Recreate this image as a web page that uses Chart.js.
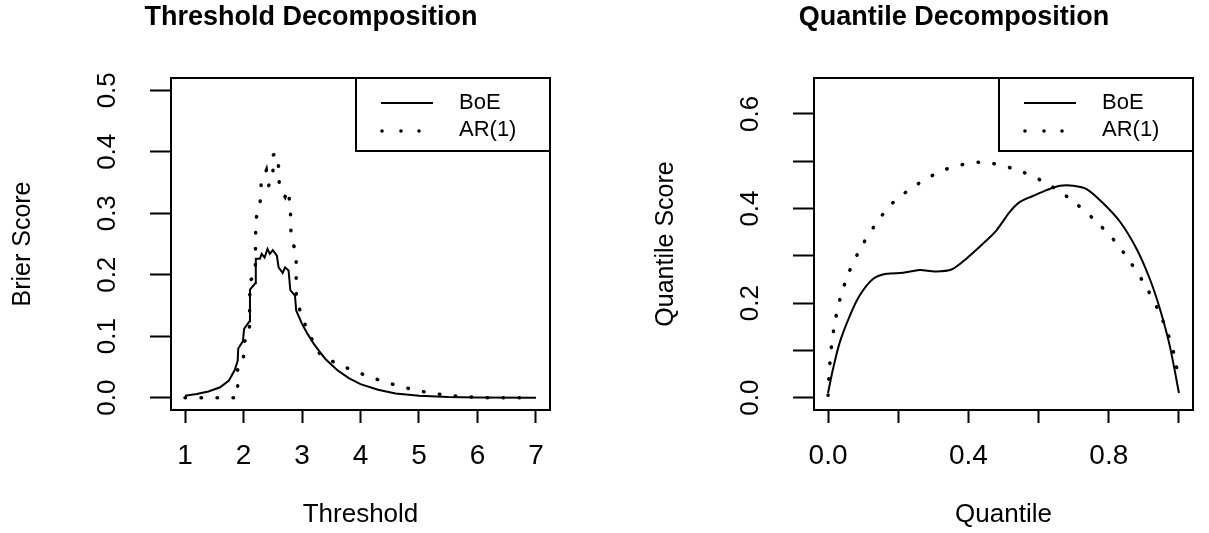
<!DOCTYPE html>
<html>
<head>
<meta charset="utf-8">
<title>Threshold and Quantile Decomposition</title>
<script src="https://cdn.jsdelivr.net/npm/chart.js@4.4.0/dist/chart.umd.min.js"></script>
<style>
    html, body { margin: 0; padding: 0; background: #fff; }
    #wrap { position: relative; width: 1209px; height: 533px; }
    #thresholdChart { position: absolute; left: 0; top: 0; }
    #quantileChart { position: absolute; left: 605px; top: 0; }
</style>
</head>
<body>
<div id="wrap">
    <canvas id="thresholdChart" width="605" height="533"></canvas>
    <canvas id="quantileChart" width="604" height="533"></canvas>
</div>
<script>
// Values
const seriesNames = ['BoE', 'AR(1)'];

// Threshold decomposition (Brier score)
const thrBoeX = [1.00, 1.20, 1.40, 1.60, 1.75, 1.85, 1.90, 1.91, 1.99, 2.01, 2.10, 2.11, 2.20, 2.21, 2.28, 2.31, 2.36, 2.41, 2.45, 2.50,
                 2.57, 2.60, 2.67, 2.71, 2.77, 2.80, 2.88, 2.90, 3.00, 3.10, 3.20, 3.30, 3.40, 3.60, 3.80, 4.00, 4.30, 4.60, 5.00, 5.50, 6.00, 7.00];
const thrBoeY = [0.003, 0.006, 0.010, 0.017, 0.028, 0.045, 0.060, 0.080, 0.092, 0.112, 0.124, 0.176, 0.186, 0.226, 0.226, 0.234, 0.228, 0.242, 0.234, 0.240,
                 0.231, 0.212, 0.203, 0.212, 0.207, 0.175, 0.166, 0.142, 0.120, 0.103, 0.088, 0.075, 0.063, 0.045, 0.032, 0.022, 0.013, 0.007, 0.003, 0.001, 0.0003, 0.0];
const thrArX = [1.0, 1.9, 1.9, 2.0, 2.0, 2.1, 2.11, 2.2, 2.21, 2.27, 2.3, 2.3, 2.39, 2.43, 2.5, 2.51, 2.57, 2.6, 2.61, 2.67,
                2.71, 2.75, 2.8, 2.81, 2.85, 2.9, 2.9, 2.94, 3.0, 3.1, 3.2, 3.3, 3.5, 3.8, 4.1, 4.4, 4.7, 5.0, 5.3, 5.6, 5.9, 6.2, 6.75];
const thrArY = [0, 0, 0.05, 0.06, 0.09, 0.10, 0.19, 0.20, 0.29, 0.31, 0.33, 0.35, 0.37, 0.345, 0.355, 0.395, 0.397, 0.375, 0.35, 0.333,
                0.327, 0.338, 0.315, 0.27, 0.25, 0.235, 0.17, 0.15, 0.13, 0.109, 0.089, 0.072, 0.06, 0.047, 0.036, 0.026, 0.018, 0.011, 0.006, 0.003, 0.001, 0, 0];
const thrXTicks = [1, 2, 3, 4, 5, 6, 7];
const thrXLabels = ['1', '2', '3', '4', '5', '6', '7'];
const thrYTicks = [0, 0.1, 0.2, 0.3, 0.4, 0.5];
const thrYLabels = ['0.0', '0.1', '0.2', '0.3', '0.4', '0.5'];

// Quantile decomposition (quantile score)
const qBoeX = [0.000, 0.014, 0.033, 0.062, 0.090, 0.128, 0.166, 0.214, 0.261, 0.304, 0.352, 0.394, 0.442, 0.480,
               0.518, 0.547, 0.585, 0.623, 0.661, 0.699, 0.737, 0.784, 0.832, 0.879, 0.917, 0.946, 0.974, 1.000];
const qBoeY = [0.010, 0.060, 0.116, 0.173, 0.216, 0.251, 0.262, 0.264, 0.270, 0.267, 0.271, 0.294, 0.326, 0.354,
               0.393, 0.414, 0.427, 0.439, 0.448, 0.448, 0.441, 0.411, 0.372, 0.315, 0.251, 0.187, 0.109, 0.010];
const qArX = [0.000, 0.003, 0.009, 0.019, 0.035, 0.059, 0.092, 0.133, 0.183, 0.254, 0.336, 0.433, 0.529,
              0.616, 0.692, 0.758, 0.815, 0.863, 0.905, 0.941, 0.970, 0.990, 0.995];
const qArY = [0.005, 0.049, 0.104, 0.157, 0.211, 0.264, 0.315, 0.364, 0.411, 0.451, 0.483, 0.498, 0.484,
              0.456, 0.419, 0.377, 0.333, 0.285, 0.236, 0.185, 0.132, 0.080, 0.053];
const qXTicks = [0, 0.2, 0.4, 0.6, 0.8, 1.0];
const qXLabels = ['0.0', '', '0.4', '', '0.8', ''];
const qYTicks = [0, 0.1, 0.2, 0.3, 0.4, 0.5, 0.6];
const qYLabels = ['0.0', '', '0.2', '', '0.4', '', '0.6'];

const FONT = "'Liberation Sans', Arial, Helvetica, sans-serif";
Chart.defaults.font.family = FONT;
Chart.defaults.color = '#000';

function toPoints(xs, ys) {
    return xs.map((x, i) => ({ x: x, y: ys[i] }));
}

// Box round the plot, main title and the boxed legend, drawn like base R
const rFrame = {
    id: 'rFrame',
    afterDraw(chart, args, opts) {
        const { ctx, chartArea: a } = chart;
        ctx.save();
        ctx.strokeStyle = '#000';
        ctx.fillStyle = '#000';
        ctx.lineWidth = 2;
        ctx.strokeRect(a.left, a.top, a.right - a.left, a.bottom - a.top);

        ctx.font = 'bold 27px ' + FONT;
        ctx.textAlign = 'center';
        ctx.textBaseline = 'alphabetic';
        ctx.fillText(opts.title, a.left + 140, 25);

        // legend
        const lw = 194, lh = 73;
        const lx = a.right - lw, ly = a.top;
        ctx.fillStyle = '#fff';
        ctx.fillRect(lx, ly, lw, lh);
        ctx.strokeRect(lx, ly, lw, lh);
        ctx.fillStyle = '#000';
        ctx.beginPath();
        ctx.moveTo(lx + 25, ly + 25);
        ctx.lineTo(lx + 77, ly + 25);
        ctx.stroke();
        [26, 45, 63].forEach(dx => {
            ctx.beginPath();
            ctx.arc(lx + dx, ly + 53, 1.8, 0, Math.PI * 2);
            ctx.fill();
        });
        ctx.font = '22px ' + FONT;
        ctx.textAlign = 'left';
        ctx.fillText(seriesNames[0], lx + 103, ly + 31);
        ctx.fillText(seriesNames[1], lx + 103, ly + 57.5);
        ctx.restore();
    }
};

function makeChart(canvasId, cfg) {
    const ctx = document.getElementById(canvasId).getContext('2d');
    return new Chart(ctx, {
        type: 'line',
        data: {
            datasets: [{
                label: seriesNames[0],
                data: toPoints(cfg.boeX, cfg.boeY),
                borderColor: '#000',
                borderWidth: 2,
                pointRadius: 0,
                tension: cfg.tension
            }, {
                label: seriesNames[1],
                data: toPoints(cfg.arX, cfg.arY),
                borderColor: '#000',
                borderWidth: 3.5,
                borderDash: [0.5, 15.5],
                borderCapStyle: 'round',
                pointRadius: 0,
                tension: cfg.tension
            }]
        },
        options: {
            responsive: false,
            animation: false,
            events: [],
            layout: {
                padding: { top: 78, right: cfg.padRight, bottom: 0, left: 0 }
            },
            scales: {
                x: {
                    type: 'linear',
                    min: cfg.xMin,
                    max: cfg.xMax,
                    afterBuildTicks: axis => { axis.ticks = cfg.xTicks.map(v => ({ value: v })); },
                    afterFit: axis => { axis.height = 123; },
                    border: { display: false },
                    grid: { drawOnChartArea: false, tickLength: 13, tickWidth: 2, tickColor: '#000' },
                    ticks: {
                        autoSkip: false,
                        maxRotation: 0,
                        padding: 16,
                        font: { size: 28 },
                        callback: (value, i) => cfg.xLabels[i]
                    },
                    title: {
                        display: true,
                        text: cfg.xTitle,
                        font: { size: 26 },
                        padding: { top: 0, bottom: 3 }
                    }
                },
                y: {
                    type: 'linear',
                    min: cfg.yMin,
                    max: cfg.yMax,
                    afterBuildTicks: axis => { axis.ticks = cfg.yTicks.map(v => ({ value: v })); },
                    afterFit: axis => { axis.width = cfg.axisWidth; },
                    border: { display: false },
                    grid: { drawOnChartArea: false, tickLength: 21, tickWidth: 2, tickColor: '#000' },
                    ticks: {
                        minRotation: 90,
                        maxRotation: 90,
                        crossAlign: 'center',
                        padding: 24,
                        font: { size: 26 },
                        callback: (value, i) => cfg.yLabels[i]
                    },
                    title: {
                        display: true,
                        text: cfg.yTitle,
                        font: { size: 25 },
                        padding: { top: cfg.yTitlePad, bottom: 0 }
                    }
                }
            },
            plugins: {
                legend: { display: false },
                tooltip: { enabled: false },
                rFrame: { title: cfg.title }
            }
        },
        plugins: [rFrame]
    });
}

makeChart('thresholdChart', {
    title: 'Threshold Decomposition',
    xTitle: 'Threshold',
    yTitle: 'Brier Score',
    boeX: thrBoeX, boeY: thrBoeY, arX: thrArX, arY: thrArY,
    xTicks: thrXTicks, xLabels: thrXLabels,
    yTicks: thrYTicks, yLabels: thrYLabels,
    xMin: 0.76, xMax: 7.24, yMin: -0.02, yMax: 0.52,
    axisWidth: 171, padRight: 55, yTitlePad: 8, tension: 0
});

makeChart('quantileChart', {
    title: 'Quantile Decomposition',
    xTitle: 'Quantile',
    yTitle: 'Quantile Score',
    boeX: qBoeX, boeY: qBoeY, arX: qArX, arY: qArY,
    xTicks: qXTicks, xLabels: qXLabels,
    yTicks: qYTicks, yLabels: qYLabels,
    xMin: -0.04, xMax: 1.04, yMin: -0.026, yMax: 0.676,
    axisWidth: 209, padRight: 16, yTitlePad: 46, tension: 0.3
});
</script>
</body>
</html>
